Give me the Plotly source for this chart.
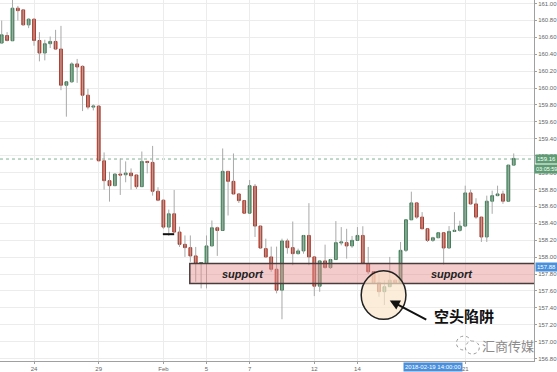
import plotly.graph_objects as go

# ---------------- data (6h candles) ----------------
opens = [160.532, 160.621, 160.559, 160.944, 160.924, 160.747, 160.814, 160.562, 160.414, 160.524,
         160.551, 160.461, 160.033, 160.073, 160.285, 160.256, 159.915, 159.774, 159.786, 159.139,
         158.904, 158.845, 158.982, 158.974, 158.994, 158.971, 158.833, 159.132, 159.120, 158.779,
         158.673, 158.355, 158.512, 158.296, 158.151, 158.112, 158.014, 157.924, 157.924, 158.132,
         158.347, 158.315, 159.014, 158.896, 158.747, 158.668, 158.520, 158.838, 158.367, 158.100,
         158.002, 157.856, 157.609, 158.191, 158.112, 158.041, 158.073, 158.256, 158.002, 157.656,
         157.955, 157.876, 157.971, 158.167, 158.171, 158.132, 158.198, 158.256, 157.924, 157.826,
         157.696, 157.591, 157.650, 157.727, 157.696, 158.080, 158.441, 158.641, 158.473, 158.335,
         158.198, 158.229, 158.288, 158.108, 158.304, 158.316, 158.367, 158.759, 158.629, 158.473,
         158.238, 158.661, 158.727, 158.747, 158.661, 159.088]
highs = [160.798, 160.661, 161.080, 160.971, 160.930, 160.826, 160.826, 160.661, 160.571, 160.609,
         160.688, 160.735, 160.073, 160.304, 160.344, 160.268, 159.991, 159.806, 159.800, 159.238,
         159.009, 158.990, 159.167, 159.132, 159.049, 158.971, 159.249, 159.132, 159.315, 158.826,
         158.680, 158.562, 158.794, 158.360, 158.256, 158.256, 158.120, 157.935, 158.256, 158.433,
         158.360, 159.285, 159.020, 159.226, 158.750, 158.670, 158.912, 158.865, 158.370, 158.218,
         158.124, 158.124, 158.218, 158.218, 158.421, 158.100, 158.260, 158.638, 158.002, 157.960,
         158.147, 157.980, 158.426, 158.355, 158.335, 158.250, 158.355, 158.365, 158.120, 157.830,
         157.806, 157.727, 158.002, 157.730, 158.179, 158.441, 158.774, 158.641, 158.532, 158.335,
         158.240, 158.290, 158.288, 158.367, 158.532, 158.430, 158.845, 158.798, 158.696, 158.473,
         158.727, 158.786, 158.845, 158.786, 159.090, 159.226]
lows = [160.524, 160.551, 160.559, 160.798, 160.740, 160.708, 160.500, 160.315, 160.327, 160.473,
        160.461, 159.974, 159.661, 160.061, 160.061, 159.727, 159.747, 159.735, 159.139, 158.798,
        158.656, 158.840, 158.735, 158.885, 158.798, 158.806, 158.833, 158.990, 158.727, 158.661,
        158.335, 158.250, 158.296, 158.120, 158.002, 157.944, 157.708, 157.630, 157.630, 158.132,
        158.014, 158.315, 158.492, 158.747, 158.640, 158.520, 158.520, 158.238, 158.100, 158.000,
        157.826, 157.571, 157.265, 158.040, 157.904, 158.030, 158.040, 157.904, 157.539, 157.590,
        157.865, 157.860, 157.970, 158.139, 157.982, 158.110, 158.198, 157.924, 157.800, 157.680,
        157.532, 157.433, 157.650, 157.690, 157.696, 158.060, 158.441, 158.453, 158.335, 158.179,
        158.180, 158.225, 157.912, 158.100, 158.300, 158.300, 158.367, 158.620, 158.453, 158.179,
        158.179, 158.512, 158.720, 158.630, 158.660, 159.088]
closes = [160.629, 160.562, 160.944, 160.915, 160.747, 160.814, 160.562, 160.414, 160.524, 160.551,
          160.461, 160.033, 160.073, 160.285, 160.249, 159.915, 159.774, 159.786, 159.139, 158.904,
          158.845, 158.982, 158.971, 158.994, 158.962, 158.833, 159.132, 159.120, 158.779, 158.673,
          158.355, 158.512, 158.296, 158.151, 158.112, 158.014, 157.924, 157.935, 158.132, 158.347,
          158.315, 159.014, 158.896, 158.747, 158.668, 158.520, 158.845, 158.367, 158.108, 158.002,
          157.856, 157.609, 158.191, 158.112, 158.041, 158.073, 158.256, 158.002, 157.656, 157.955,
          157.876, 157.971, 158.171, 158.179, 158.132, 158.198, 158.256, 157.924, 157.826, 157.696,
          157.591, 157.650, 157.727, 157.696, 158.080, 158.441, 158.641, 158.473, 158.335, 158.198,
          158.229, 158.288, 158.108, 158.304, 158.316, 158.367, 158.759, 158.629, 158.473, 158.238,
          158.661, 158.727, 158.747, 158.661, 159.088, 159.167]

tick_idx = [6, 18, 30, 38, 46, 58, 66, 86]
tick_text = ["24", "29", "Feb", "5", "7", "12", "14", "21"]

last_price = 159.16
countdown = "03:05:59"
cross_price = 157.88
cross_idx = 80
cross_time = "2018-02-19 14:00:00"

support_low = 157.688
support_high = 157.924
support_start = 34.9

trap_x = (66.7, 75.0)
trap_y = (157.265, 157.838)
trap_label = "空头陷阱"
marker_price = 158.271
marker_x = (29.9, 32.0)

# ---------------- figure ----------------
idx = list(range(len(opens)))
body_hi = [max(o, c) for o, c in zip(opens, closes)]
body_lo = [min(o, c) for o, c in zip(opens, closes)]

wx, wy = [], []
for i, h, l in zip(idx, highs, lows):
    wx += [i, i, None]
    wy += [l, h, None]

fig = go.Figure()
fig.add_trace(go.Scatter(x=wx, y=wy, mode="lines",
                         line=dict(color="#a9a9a9", width=1),
                         hoverinfo="skip", showlegend=False))
fig.add_trace(go.Candlestick(
    x=idx, open=opens, high=body_hi, low=body_lo, close=closes,
    increasing=dict(fillcolor="#5f9f75", line=dict(color="#3f7d57", width=1)),
    decreasing=dict(fillcolor="#d9503e", line=dict(color="#a83a2c", width=1)),
    whiskerwidth=0, hoverinfo="skip", showlegend=False))

grid = "#ececec"
tick_font = dict(family="Liberation Sans Narrow, Liberation Sans, Arial, sans-serif", size=6, color="#666666")

fig.update_layout(
    width=557, height=372,
    margin=dict(l=0, r=20, t=0, b=9),
    paper_bgcolor="white", plot_bgcolor="white",
    showlegend=False,
    boxgap=0.25,
    xaxis=dict(range=[-0.314, 98.76], tickmode="array", tickvals=tick_idx, ticktext=tick_text,
               showgrid=True, gridcolor=grid, gridwidth=1, zeroline=False,
               showline=True, linecolor="#a0a0a0", linewidth=1,
               ticks="outside", ticklen=2, tickcolor="#a0a0a0",
               tickfont=tick_font, rangeslider=dict(visible=False), fixedrange=True),
    yaxis=dict(side="right", range=[156.771, 161.041], dtick=0.2, tick0=157.0,
               tickformat=".2f", showgrid=True, gridcolor=grid, gridwidth=1, zeroline=False,
               showline=True, linecolor="#a0a0a0", linewidth=1,
               ticks="outside", ticklen=2, tickcolor="#a0a0a0",
               tickfont=tick_font, fixedrange=True),
)

# current price dotted line
fig.add_shape(type="line", xref="paper", x0=0, x1=1, yref="y", y0=last_price, y1=last_price,
              line=dict(color="#7fb394", width=1, dash="dot"), layer="below")

# small black marker line
fig.add_shape(type="line", xref="x", x0=marker_x[0], x1=marker_x[1], yref="y",
              y0=marker_price, y1=marker_price, line=dict(color="#111111", width=2))

# support zone
fig.add_shape(type="rect", xref="x", x0=support_start, x1=120, yref="y",
              y0=support_low, y1=support_high,
              fillcolor="rgba(228,140,140,0.45)", line=dict(color="#4a3c3c", width=1.5))

# bear trap circle
fig.add_shape(type="circle", xref="x", x0=trap_x[0], x1=trap_x[1], yref="y",
              y0=trap_y[0], y1=trap_y[1],
              fillcolor="rgba(250,228,200,0.68)", line=dict(color="#222222", width=1.5))

sup_font = dict(family="Liberation Sans, Arial, sans-serif", size=11, color="#222222")
for sx in (44.8, 83.6):
    fig.add_annotation(x=sx, y=(support_low + support_high) / 2, xref="x", yref="y",
                       text="<b><i>support</i></b>", showarrow=False, font=sup_font)

# arrow
fig.add_annotation(x=72.0, y=157.488, xref="x", yref="y", text="", showarrow=True,
                   ax=38, ay=20, arrowhead=2, arrowsize=1, arrowwidth=2, arrowcolor="#111111")
fig.add_annotation(x=(467 - 1.7) / 5.42, y=161 - (317 - 3.5) / 85, xref="x", yref="y",
                   text="<b>" + trap_label + "</b>", showarrow=False,
                   font=dict(family="Noto Sans CJK SC", size=15, color="#111111"))

# right-axis price tags
tag_font = dict(family="Liberation Sans Narrow, Liberation Sans, Arial", size=6, color="white")
fig.add_annotation(xref="paper", x=1.0, xanchor="left", yref="y", y=last_price, yanchor="middle",
                   text=f"{last_price:.2f}", showarrow=False, bgcolor="#5d9c72",
                   font=tag_font, borderpad=1, xshift=1)
fig.add_annotation(xref="paper", x=1.0, xanchor="left", yref="y", y=last_price, yanchor="top",
                   text=countdown, showarrow=False, bgcolor="#5d9c72",
                   font=dict(family="Liberation Sans Narrow, Liberation Sans, Arial", size=5.5, color="white"),
                   borderpad=1, xshift=0, yshift=-5)
fig.add_annotation(xref="paper", x=1.0, xanchor="left", yref="y", y=cross_price, yanchor="middle",
                   text=f"{cross_price:.2f}", showarrow=False, bgcolor="#4a8fdb",
                   font=tag_font, borderpad=1, xshift=1)
fig.add_annotation(xref="x", x=cross_idx, yref="paper", y=0, yanchor="top",
                   text=cross_time, showarrow=False, bgcolor="#4a8fdb",
                   font=tag_font, borderpad=1, yshift=-1)

# watermark
fig.add_shape(type="circle", xref="paper", yref="paper",
              x0=459 / 537, x1=474 / 537, y0=(363 - 352) / 363, y1=(363 - 338) / 363,
              line=dict(color="#9a9a9a", width=1, dash="dot"))
fig.add_shape(type="circle", xref="paper", yref="paper",
              x0=468 / 537, x1=482 / 537, y0=(363 - 356) / 363, y1=(363 - 343) / 363,
              fillcolor="white", line=dict(color="#9a9a9a", width=1, dash="dot"))
fig.add_annotation(xref="paper", yref="paper", x=511 / 537, y=(363 - 347) / 363,
                   xanchor="center", yanchor="middle",
                   text="汇商传媒", showarrow=False,
                   font=dict(family="Noto Sans CJK SC", size=13, color="#8c8c8c"))

fig.write_html("out.html",
               config={"displayModeBar": False, "staticPlot": True},
               post_script="document.body.style.margin='0';document.body.style.padding='0';"
                           "document.documentElement.style.overflow='hidden';")
